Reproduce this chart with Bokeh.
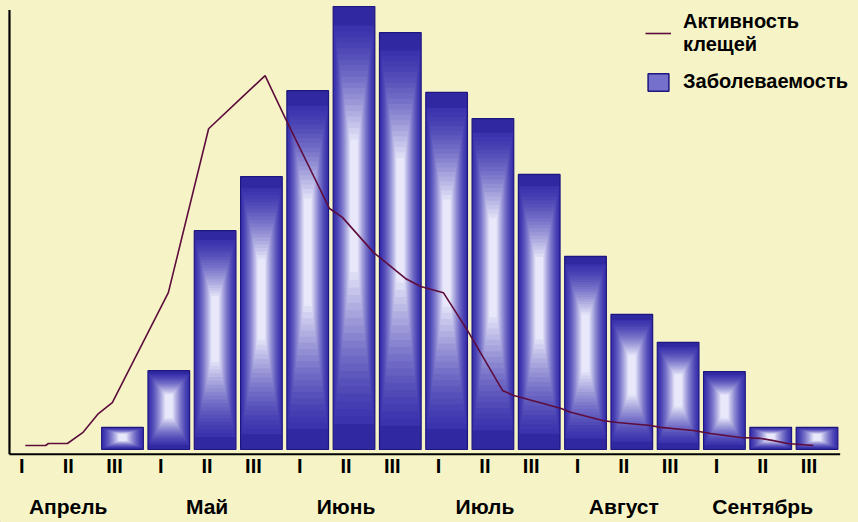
import numpy as np
from bokeh.plotting import figure
from bokeh.models import ColumnDataSource, Legend, LegendItem, Range1d
from bokeh.core.properties import value
from bokeh.embed import file_html
from bokeh.resources import INLINE

# ---------------- data ----------------
months = ["Апрель", "Май", "Июнь", "Июль", "Август", "Сентябрь"]
decades = ["I", "II", "III"]
# decade index: 0 = I Apr, 1 = II Apr, ..., 17 = III Sep
bar_pos = list(range(2, 18))
incidence = [5.0, 17.8, 49.4, 61.6, 81.0, 100.0, 94.1, 80.6, 74.7, 62.1,
             43.6, 30.5, 24.2, 17.6, 5.0, 5.0]
activity_x = [-0.10, 0.34, 0.40, 0.81, 1.14, 1.48, 1.78, 2.99, 3.86, 4.51,
              5.08, 5.52, 6.47, 6.75, 7.42, 8.11, 8.44, 8.93, 9.45, 10.21,
              10.45, 11.46, 11.68, 12.39, 12.69, 13.40, 13.62, 14.33, 14.70,
              15.35, 15.78, 16.06, 16.36, 16.92]
activity_y = [0.9, 0.9, 1.35, 1.35, 3.8, 8.1, 10.6, 35.4, 72.4, 78.8,
              84.4, 74.7, 54.4, 52.4, 44.5, 38.6, 36.8, 35.4, 26.9, 13.3,
              12.2, 9.3, 8.4, 6.5, 6.1, 5.4, 5.0, 4.3, 3.6,
              2.7, 2.5, 2.0, 1.35, 0.9]

BG = "#F6F4C7"
FONT = "Liberation Sans"

x_start, x_end = -0.635, 17.896
y_start, y_end = -16.48, 101.35

p = figure(width=858, height=522, output_backend="svg", toolbar_location=None,
           x_range=Range1d(x_start, x_end), y_range=Range1d(y_start, y_end),
           min_border=0, background_fill_color=BG, border_fill_color=BG)
p.axis.visible = False
p.grid.visible = False
p.outline_line_color = None

# ---------------- bars with a simulated gradient ----------------
v = np.array(incidence)
dark = np.array([56, 48, 172])
light = np.array([232, 232, 250])
n = 22
bar_width = 0.9
for i in range(n):
    t = i / (n - 1)
    if i == 0:
        top, bottom, w = v, np.zeros_like(v), bar_width
        col = "#3028A0"
    else:
        top = v - v * (0.03 + 0.27 * t)
        bottom = v * (0.04 + 0.36 * t)
        w = bar_width * (1 - 0.82 * t)
        c = dark + (light - dark) * (t ** 1.4)
        col = "#%02x%02x%02x" % tuple(int(round(k)) for k in c)
    src = ColumnDataSource(dict(x=bar_pos, top=top, bottom=bottom))
    p.vbar(x="x", top="top", bottom="bottom", width=w, source=src,
           fill_color=col, line_color="#1E1680" if i == 0 else None,
           line_width=1.2)

# ---------------- activity line ----------------
line_r = p.line(activity_x, activity_y, line_color="#5E0C3C", line_width=1.6)

# ---------------- axes lines ----------------
axis_y = -1.1
axis_x = x_start + 0.194
p.segment(x0=[axis_x], y0=[axis_y], x1=[17.5], y1=[axis_y],
          line_color="black", line_width=2)
p.segment(x0=[axis_x], y0=[axis_y], x1=[axis_x], y1=[99.2],
          line_color="black", line_width=2.2)

# ---------------- category labels ----------------
dec_x = list(range(18))
dec_txt = decades * 6
p.text(x=dec_x, y=[-3.75] * 18, text=dec_txt, x_offset=-8,
       text_align="center", text_baseline="middle",
       text_font=value(FONT), text_font_style="bold",
       text_font_size="20px", text_color="black")
mon_x = [3 * k + 1 for k in range(6)]
p.text(x=mon_x, y=[-12.9] * 6, text=months, x_offset=-8,
       text_align="center", text_baseline="middle",
       text_font=value(FONT), text_font_style="bold",
       text_font_size="21px", text_color="black")

# ---------------- legend ----------------
# legend swatch renderer, kept outside the visible ranges
swatch = p.vbar(x=[x_start - 10], top=[y_start - 20], bottom=[y_start - 30],
                width=0.9, fill_color="#7470CC",
                line_color="#1E1680", line_width=1.5)
legend = Legend(items=[LegendItem(label="Активность\nклещей", renderers=[line_r]),
                       LegendItem(label="Заболеваемость", renderers=[swatch])],
                location="top_right", margin=7, padding=3, spacing=14,
                label_standoff=12, glyph_width=26, glyph_height=22,
                label_text_font=FONT, label_text_font_style="bold",
                label_text_font_size="20px", label_text_color="black",
                background_fill_alpha=0, border_line_alpha=0)
p.add_layout(legend)

html = file_html(p, INLINE)
html = html.replace("<head>", "<head><style>body{background:%s;}</style>" % BG, 1)
open("out.html", "w").write(html)
